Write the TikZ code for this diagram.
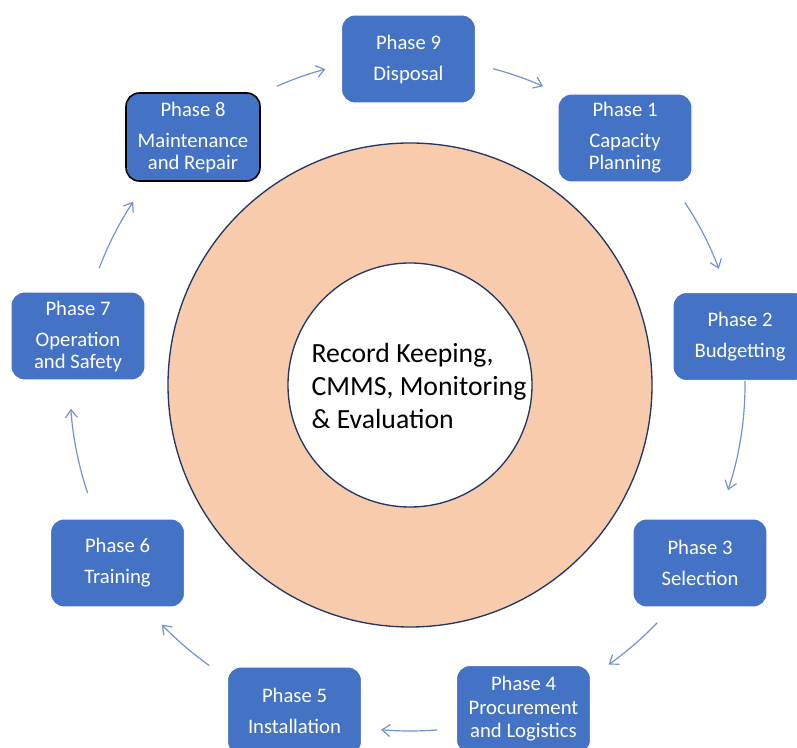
\documentclass[tikz,border=0pt]{standalone}
\usepackage{fontspec}
\setmainfont{Carlito}
\usetikzlibrary{arrows.meta}
\definecolor{phaseblue}{RGB}{68,114,196}
\definecolor{ringpeach}{RGB}{248,203,173}
\definecolor{ringnavy}{RGB}{32,56,100}
\definecolor{flowblue}{RGB}{114,147,209}

\tikzset{
  phase/.style={draw=white, line width=0.8pt, fill=phaseblue, text=white,
    rounded corners=10pt, minimum width=100.5pt, minimum height=66pt,
    align=center, inner sep=2pt, font=\fontsize{15.5}{16.5}\selectfont},
  flow/.style={flowblue, line width=0.9pt, -{Straight Barb[length=6pt,width=9pt]}},
}

\begin{document}
\begin{tikzpicture}[x=0.75pt, y=0.75pt]
    \useasboundingbox (0,0) rectangle (797,-748);

    % Ring with the central activity
    \coordinate (hub) at (410,-385);
    \fill[ringpeach] (hub) circle (242);
    \draw[ringnavy, line width=1pt] (hub) circle (242);
    \draw[ringnavy, fill=white, line width=1pt] (hub) circle (122);
    \node[align=left, font=\fontsize{20.8}{25}\selectfont] (core) at (419,-386)
        {Record Keeping,\\CMMS, Monitoring\\\& Evaluation};

    % Phases of the life cycle
    \node[phase] (p9) at (408.5,-59) {Phase 9\\[6.75pt]Disposal};
    \node[phase] (p1) at (625,-138) {Phase 1\\[6.75pt]Capacity\\Planning};
    \node[phase] (p2) at (740,-336.5) {Phase 2\\[6.75pt]Budgetting};
    \node[phase] (p3) at (700,-563) {Phase 3\\[6.75pt]Selection};
    \node[phase, text depth=4pt] (p4) at (523.5,-709.5)
        {Phase 4\\[1pt]Procurement\\[1pt]and Logistics};
    \node[phase] (p5) at (294.5,-711) {Phase 5\\[6.75pt]Installation};
    \node[phase] (p6) at (117.5,-563) {Phase 6\\[6.75pt]Training};
    \node[phase] (p7) at (78,-336) {Phase 7\\[6.75pt]Operation\\and Safety};
    \node[phase, draw=black, line width=1.2pt] (p8) at (193,-137)
        {Phase 8\\[6.75pt]Maintenance\\and Repair};

    % Clockwise flow between the phases
    \foreach \a/\b/\r in {114/105/327, 75.3/66/327, 33.6/20.6/330,
                          0.7/-18.3/335, -43.9/-54.6/343, -85.5/-94.8/346,
                          -125.6/-136/345, -161.5/-176/340, 159.4/146.5/332}
        \draw[flow] (hub) ++(\a:\r) arc (\a:\b:\r);
\end{tikzpicture}
\end{document}
